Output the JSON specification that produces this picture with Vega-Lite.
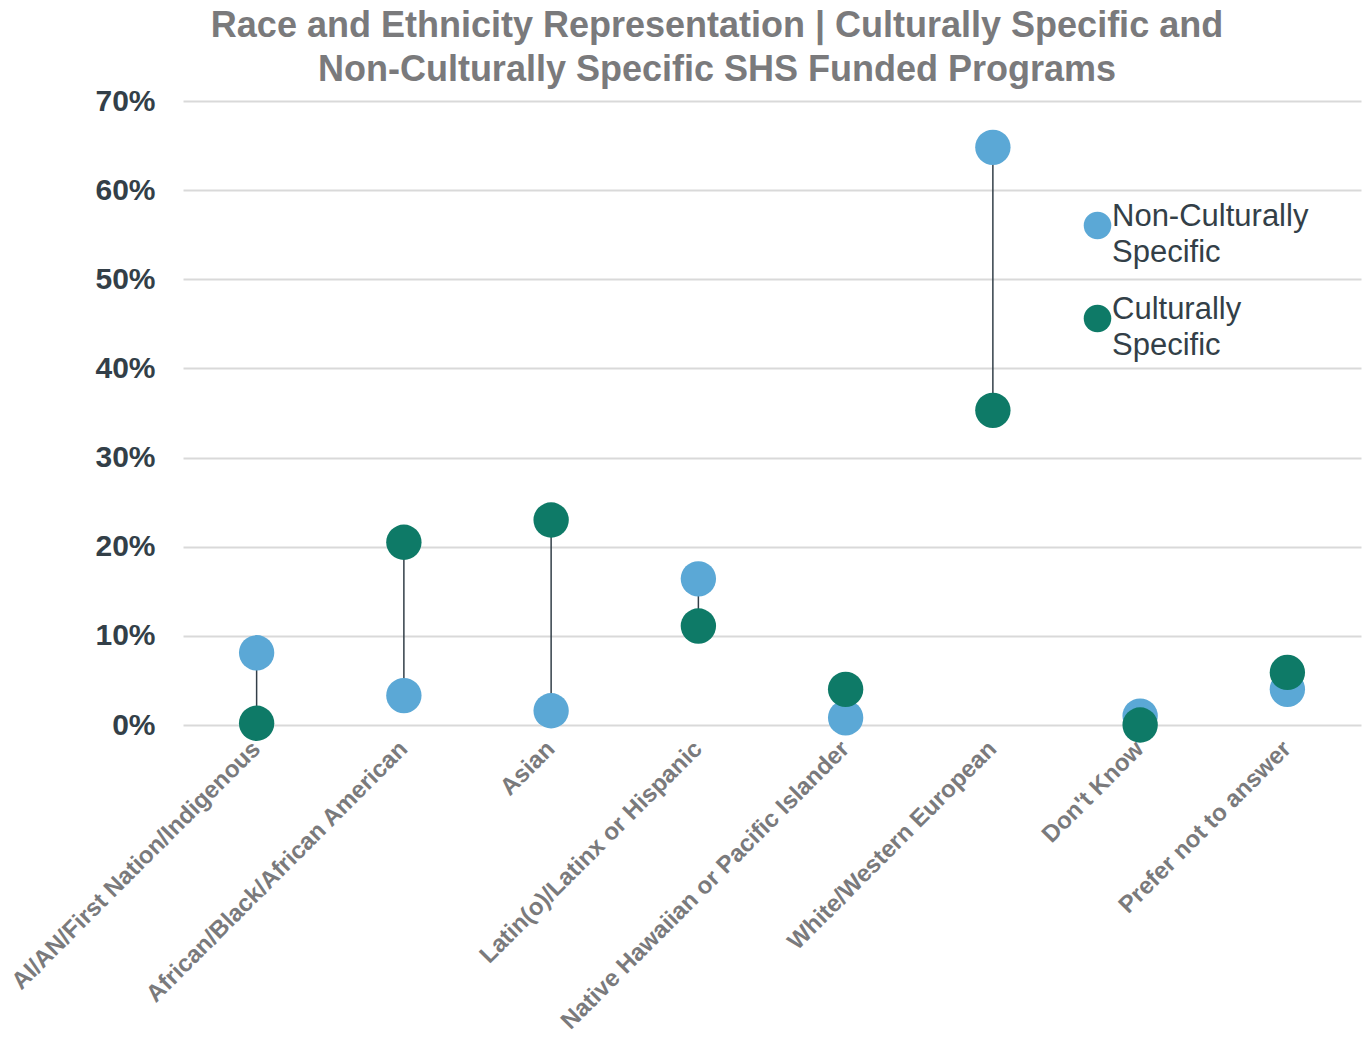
{
  "$schema": "https://vega.github.io/schema/vega-lite/v6.json",
  "width": 1178,
  "height": 624,
  "autosize": {"type": "none"},
  "padding": {"left": 183, "top": 101, "right": 8, "bottom": 313},
  "background": "white",
  "config": {
    "font": "Liberation Sans",
    "view": {"stroke": null},
    "style": {"guide-label": {"lineHeight": 36}}
  },
  "title": {
    "text": ["Race and Ethnicity Representation | Culturally Specific and", "Non-Culturally Specific SHS Funded Programs"],
    "fontSize": 36,
    "font": "Liberation Sans",
    "fontWeight": "bold",
    "color": "#7a7a7c",
    "lineHeight": 44,
    "anchor": "middle",
    "dx": -55,
    "offset": -3
  },
  "data": {
    "values": [
      {"category": "AI/AN/First Nation/Indigenous", "group": "Non-Culturally Specific", "value": 0.081},
      {"category": "AI/AN/First Nation/Indigenous", "group": "Culturally Specific", "value": 0.002},
      {"category": "African/Black/African American", "group": "Non-Culturally Specific", "value": 0.033},
      {"category": "African/Black/African American", "group": "Culturally Specific", "value": 0.205},
      {"category": "Asian", "group": "Non-Culturally Specific", "value": 0.016},
      {"category": "Asian", "group": "Culturally Specific", "value": 0.230},
      {"category": "Latin(o)/Latinx or Hispanic", "group": "Non-Culturally Specific", "value": 0.164},
      {"category": "Latin(o)/Latinx or Hispanic", "group": "Culturally Specific", "value": 0.111},
      {"category": "Native Hawaiian or Pacific Islander", "group": "Non-Culturally Specific", "value": 0.008},
      {"category": "Native Hawaiian or Pacific Islander", "group": "Culturally Specific", "value": 0.040},
      {"category": "White/Western European", "group": "Non-Culturally Specific", "value": 0.648},
      {"category": "White/Western European", "group": "Culturally Specific", "value": 0.353},
      {"category": "Don't Know", "group": "Non-Culturally Specific", "value": 0.010},
      {"category": "Don't Know", "group": "Culturally Specific", "value": 0.000},
      {"category": "Prefer not to answer", "group": "Non-Culturally Specific", "value": 0.040},
      {"category": "Prefer not to answer", "group": "Culturally Specific", "value": 0.059}
    ]
  },
  "encoding": {
    "x": {
      "field": "category",
      "type": "nominal",
      "sort": null,
      "title": null,
      "scale": {"paddingInner": 0, "paddingOuter": 0},
      "axis": {
        "labelAngle": -45,
        "labelAlign": "right",
        "labelBaseline": "middle",
        "labelFontSize": 24,
        "labelFontWeight": "bold",
        "labelColor": "#7a7a7c",
        "labelPadding": 20,
        "ticks": false,
        "domain": false,
        "grid": false,
        "labelLimit": 500
      }
    }
  },
  "layer": [
    {
      "mark": {"type": "rule", "color": "#333f48", "strokeWidth": 1.5},
      "encoding": {
        "y": {"aggregate": "min", "field": "value", "type": "quantitative"},
        "y2": {"aggregate": "max", "field": "value"}
      }
    },
    {
      "mark": {"type": "point", "shape": "circle", "filled": true, "opacity": 1, "size": 1250},
      "encoding": {
        "y": {
          "field": "value",
          "type": "quantitative",
          "title": null,
          "scale": {"domain": [0, 0.7], "nice": false},
          "axis": {
            "format": ".0%",
            "values": [0, 0.1, 0.2, 0.3, 0.4, 0.5, 0.6, 0.7],
            "labelFontSize": 30,
            "labelFontWeight": "bold",
            "labelColor": "#333f48",
            "labelPadding": 28,
            "ticks": false,
            "domain": false,
            "gridColor": "#d9d9d9",
            "gridWidth": 2
          }
        },
        "color": {
          "field": "group",
          "type": "nominal",
          "scale": {"domain": ["Non-Culturally Specific", "Culturally Specific"], "range": ["#5ba8d6", "#0e7a67"]},
          "legend": {
            "title": null,
            "orient": "none",
            "legendX": 899,
            "legendY": 109,
            "symbolType": "circle",
            "symbolSize": 760,
            "symbolStrokeWidth": 0,
            "labelFontSize": 31,
            "labelColor": "#333f48",
            "labelOffset": -1,
            "labelBaseline": "alphabetic",
            "rowPadding": 25,
            "labelExpr": "split(datum.label, ' ')",
            "labelLimit": 400
          }
        },
        "order": {"field": "group", "sort": "descending"}
      }
    }
  ]
}
